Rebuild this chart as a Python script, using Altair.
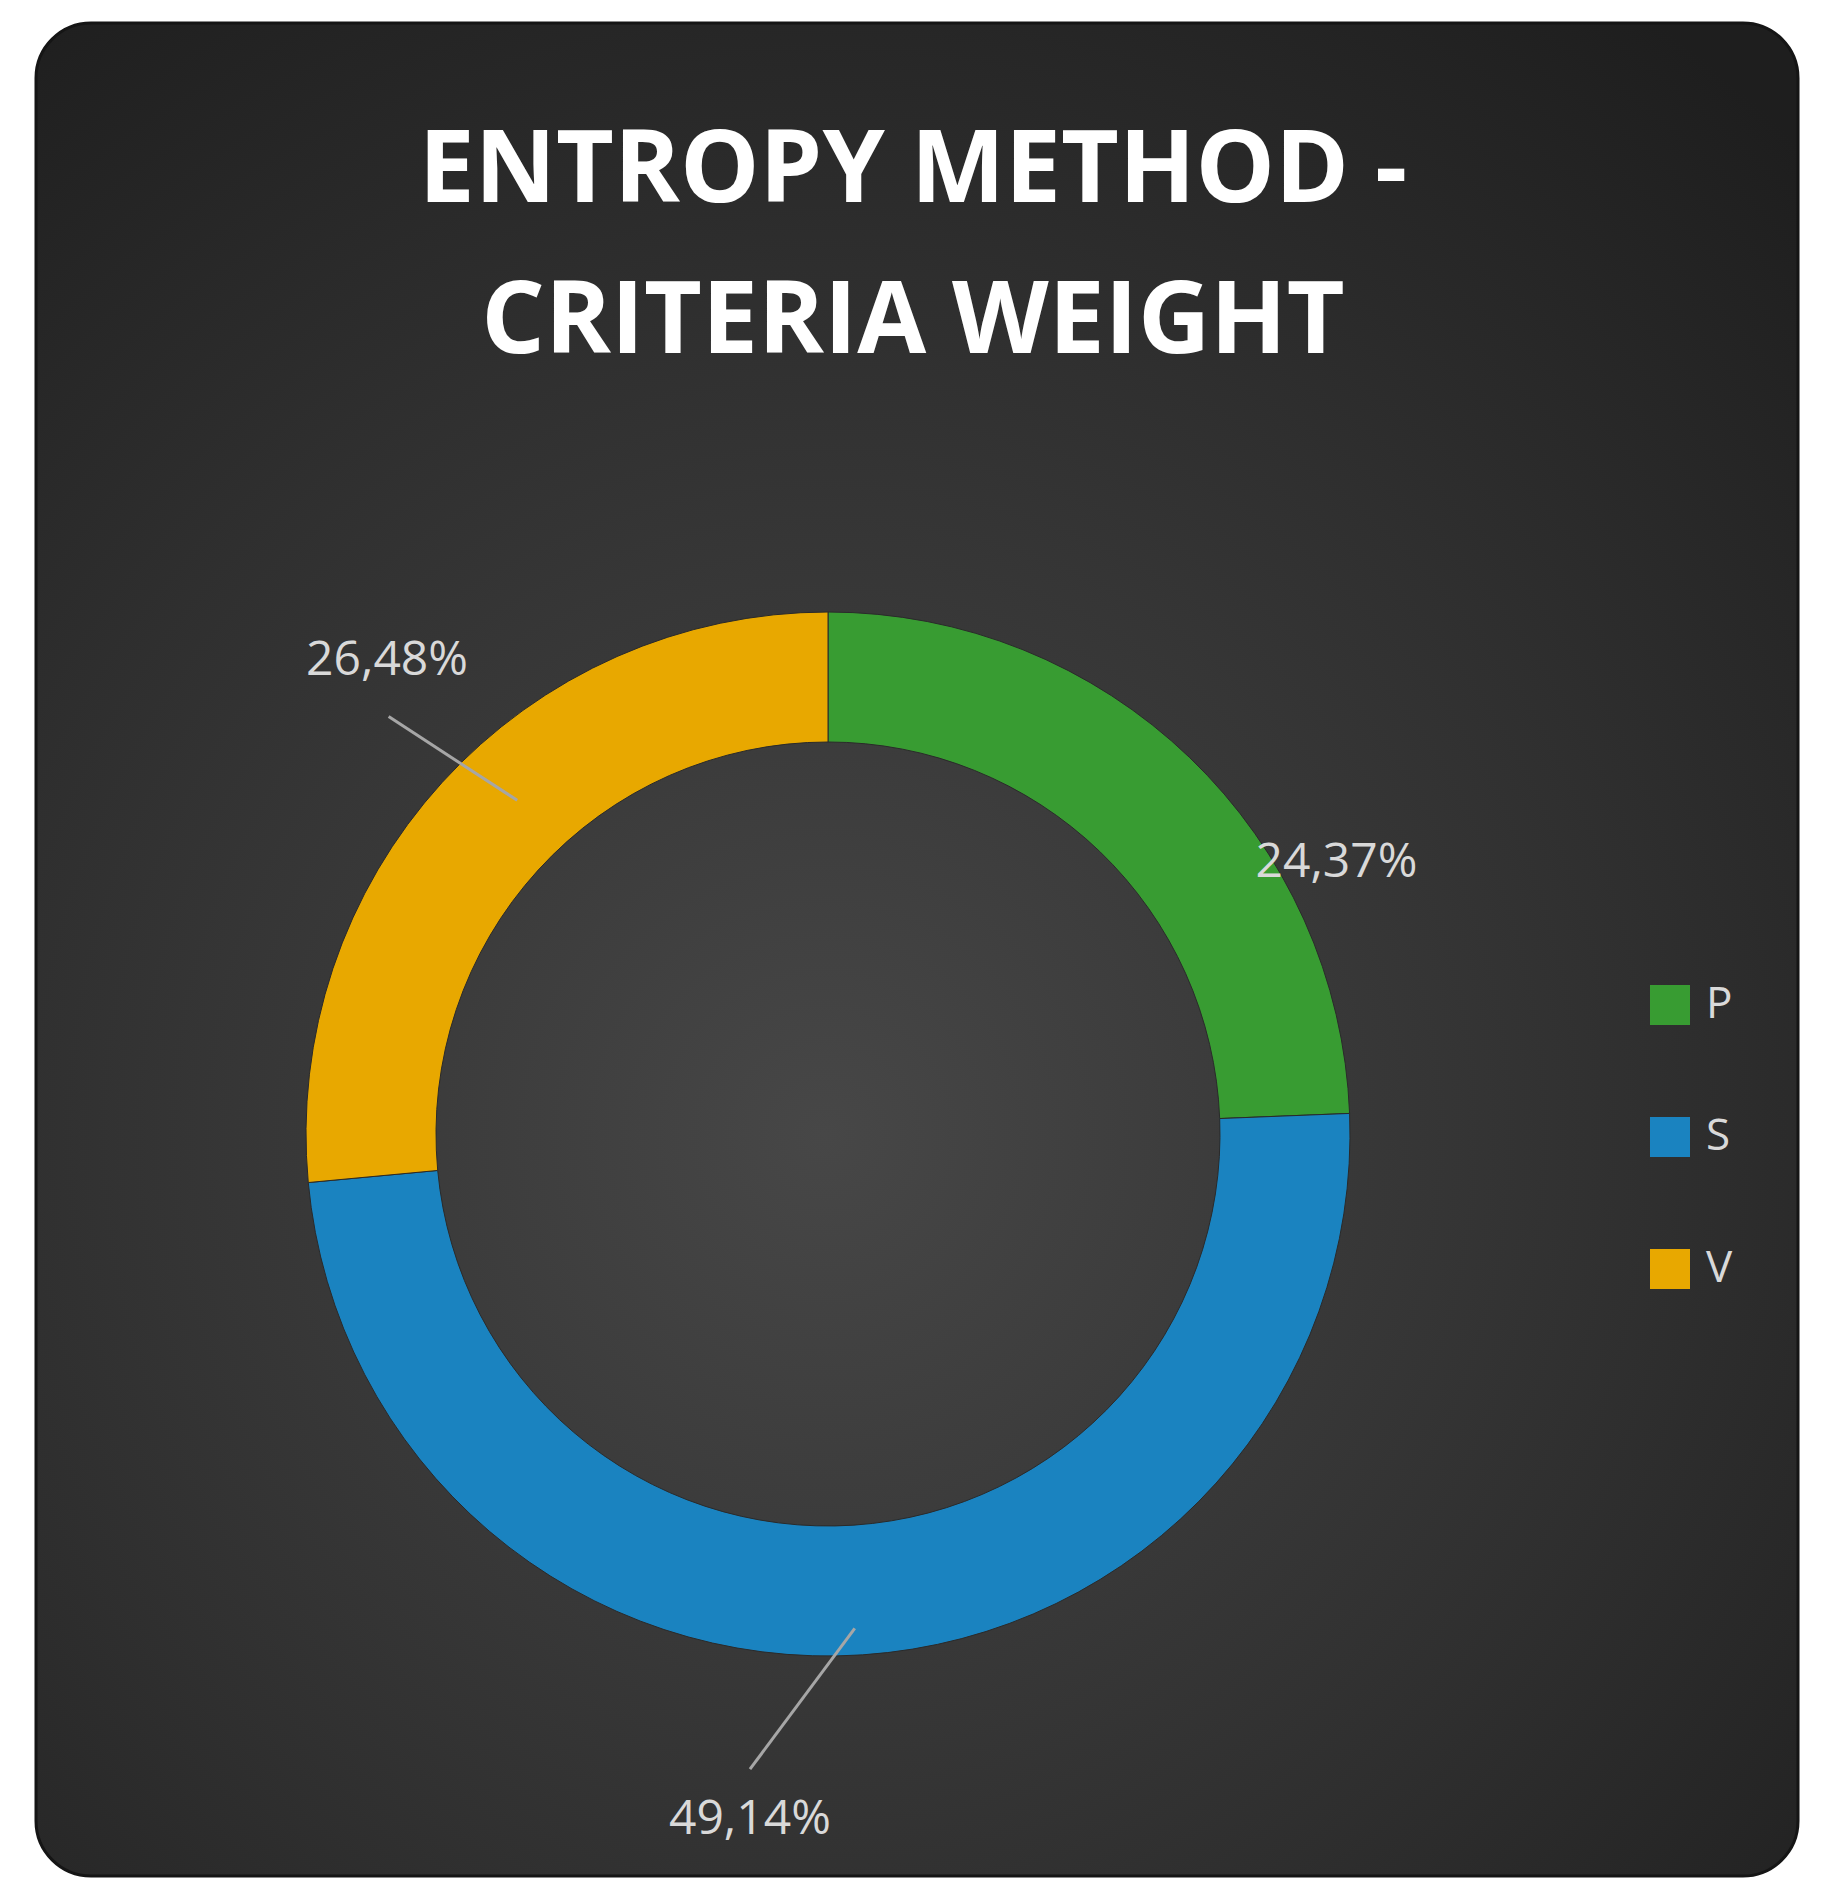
import altair as alt
import pandas as pd

# ---- data ----
CATS = ["P", "S", "V"]
WEIGHTS = [24.37, 49.14, 26.48]
LABELS = ["24,37%", "49,14%", "26,48%"]
TITLE_LINES = ["ENTROPY METHOD -", "CRITERIA WEIGHT"]

# ---- styling ----
COLORS = ["#389c32", "#1a83c0", "#e8a800"]
W, H = 1817, 1883
CX, CY = 820, 1126
R_OUT, R_IN = 522, 392

df = pd.DataFrame({"cat": CATS, "weight": WEIGHTS, "label": LABELS,
                   "ord": list(range(len(CATS)))})

# label placement: (angle offset from slice middle in deg, radius px)
LABEL_PLACE = {"P": (18.1, 576), "S": (10.3, 690), "V": (4.7, 647)}
# leader lines: (offset1 deg, r1, offset2 deg, r2)
LEADERS = {"S": (0.7, 495, 10.8, 640), "V": (4.7, 456, 1.2, 606)}


def pick(table, idx, default=0):
    expr = str(default)
    for k, v in table.items():
        expr = f"(datum.cat === '{k}' ? {v[idx]} : {expr})"
    return expr


def with_angles(ch):
    return (ch.transform_joinaggregate(total="sum(weight)")
            .transform_window(cum="sum(weight)",
                              sort=[alt.SortField("ord", order="ascending")],
                              frame=[None, 0])
            .transform_calculate(mid="(datum.cum - datum.weight/2) / datum.total * 360"))


one = pd.DataFrame({"k": [0]})

background = alt.Chart(one).mark_rect(
    cornerRadius=55,
    fill=alt.RadialGradient(
        gradient="radial",
        stops=[alt.GradientStop(color="#474747", offset=0),
               alt.GradientStop(color="#2f2f2f", offset=0.6),
               alt.GradientStop(color="#1e1e1e", offset=1)],
        x1=0.45, y1=0.6, r1=0, x2=0.45, y2=0.6, r2=0.75),
    stroke="#151515", strokeWidth=3,
).encode(x=alt.value(28), x2=alt.value(1790), y=alt.value(15), y2=alt.value(1868))

title = alt.Chart(one).mark_text(
    font="Open Sans", fontSize=100, fontWeight="bold", color="#ffffff",
    align="center", baseline="alphabetic", lineHeight=151,
).encode(x=alt.value(905), y=alt.value(194), text=alt.value(TITLE_LINES))

arcs = alt.Chart(df).mark_arc(
    outerRadius=R_OUT, innerRadius=R_IN, stroke="#2a2a2a", strokeWidth=1,
).encode(
    theta=alt.Theta("weight:Q", stack=True),
    order=alt.Order("ord:Q", sort="ascending"),
    color=alt.Color("cat:N", scale=alt.Scale(domain=CATS, range=COLORS),
                    legend=alt.Legend(title=None, orient="none", legendX=1640, legendY=975,
                                      symbolType="square", symbolSize=1600,
                                      symbolStrokeWidth=0, symbolOpacity=1,
                                      labelFont="Open Sans", labelFontSize=44,
                                      labelColor="#d9d9d9", labelOffset=14,
                                      rowPadding=88, padding=0)),
    x=alt.value(CX), y=alt.value(CY),
)

leaders = with_angles(alt.Chart(df)).transform_filter(
    "indexof([" + ",".join(f"'{k}'" for k in LEADERS) + "], datum.cat) >= 0"
).transform_calculate(
    a1=f"(datum.mid + {pick(LEADERS, 0)}) * PI / 180",
    r1=pick(LEADERS, 1),
    a2=f"(datum.mid + {pick(LEADERS, 2)}) * PI / 180",
    r2=pick(LEADERS, 3),
).transform_calculate(
    x1=f"{CX} + datum.r1 * sin(datum.a1)",
    y1=f"{CY} - datum.r1 * cos(datum.a1)",
    x2=f"{CX} + datum.r2 * sin(datum.a2)",
    y2=f"{CY} - datum.r2 * cos(datum.a2)",
).mark_rule(color="#a6a6a6", strokeWidth=3).encode(
    x=alt.X("x1:Q", scale=None), y=alt.Y("y1:Q", scale=None),
    x2="x2:Q", y2="y2:Q",
)

labels = with_angles(alt.Chart(df)).transform_calculate(
    la=f"(datum.mid + {pick(LABEL_PLACE, 0)}) * PI / 180",
    lr=pick(LABEL_PLACE, 1),
).transform_calculate(
    lx=f"{CX} + datum.lr * sin(datum.la)",
    ly=f"{CY} - datum.lr * cos(datum.la)",
).mark_text(
    font="Open Sans", fontSize=48, color="#d9d9d9", align="center", baseline="middle",
).encode(
    x=alt.X("lx:Q", scale=None), y=alt.Y("ly:Q", scale=None), text="label:N",
)

chart = alt.layer(background, title, arcs, leaders, labels).properties(
    width=W, height=H, autosize=alt.AutoSizeParams(type="none"), padding=0,
    background="white",
).configure_view(stroke=None)

chart.save("out.html", embed_options={"renderer": "svg", "actions": False})
